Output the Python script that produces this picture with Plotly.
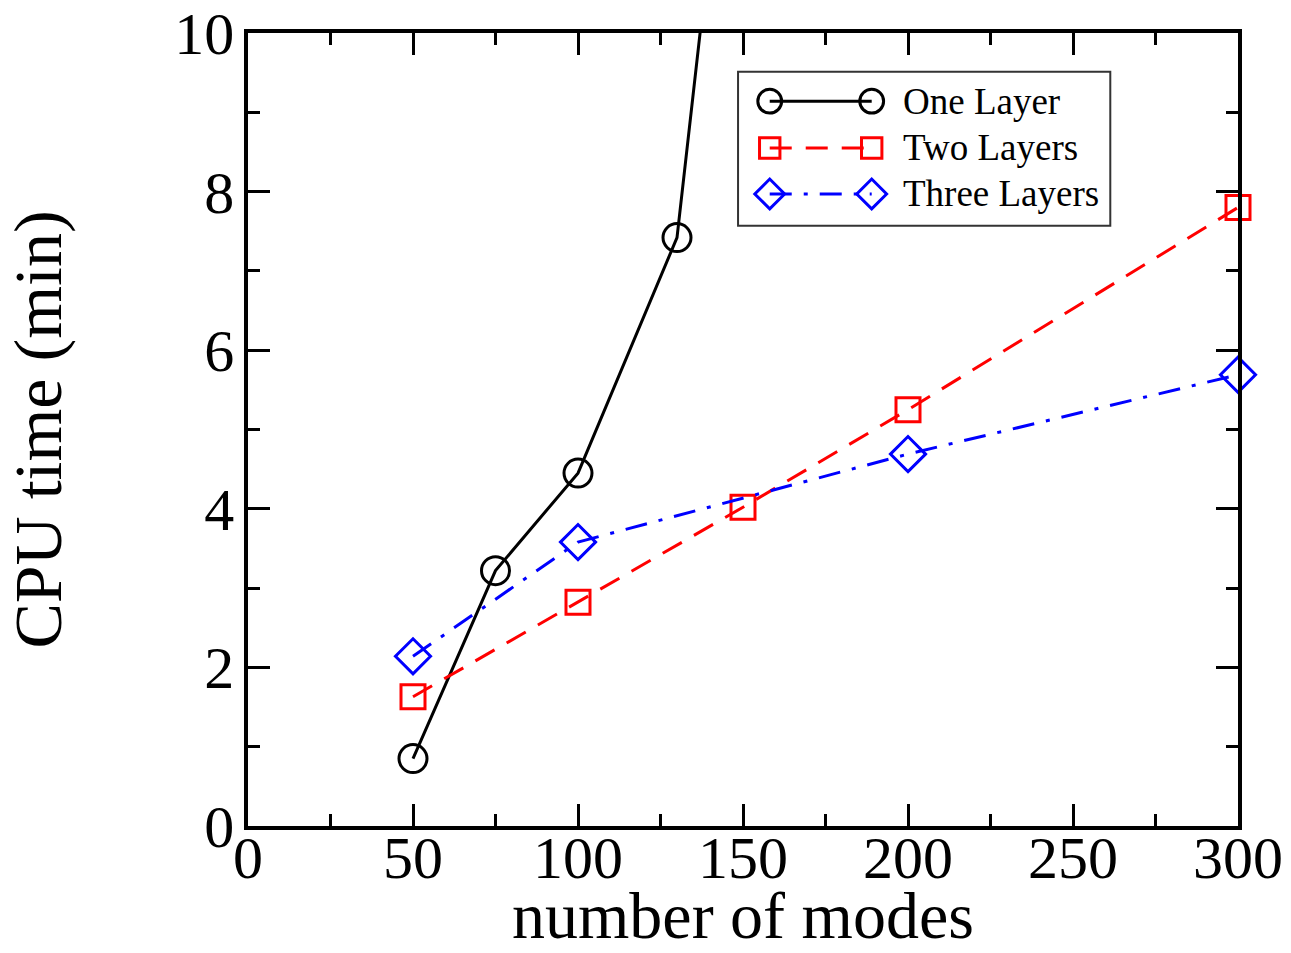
import plotly.graph_objects as go

# Data
one_x = [50, 75, 100, 130, 150]
one_y = [0.85, 3.22, 4.45, 7.42, 14.8]
two_x = [50, 100, 150, 200, 300]
two_y = [1.63, 2.82, 4.02, 5.25, 7.80]
three_x = [50, 100, 200, 300]
three_y = [2.14, 3.58, 4.69, 5.69]

names = ["One Layer", "Two Layers", "Three Layers"]
colors = ["black", "red", "blue"]
dashes = ["solid", "22px,14px", "22px,12px,4px,12px"]
symbols = ["circle-open", "square-open", "diamond-open"]
sizes = [28, 24, 27]

FONT = "Liberation Serif"

fig = go.Figure()
for xs, ys, nm, c, d, s, sz in zip([one_x, two_x, three_x], [one_y, two_y, three_y],
                                   names, colors, dashes, symbols, sizes):
    fig.add_trace(go.Scatter(
        x=xs, y=ys, mode="lines+markers", name=nm,
        line=dict(color=c, width=3, dash=d),
        marker=dict(symbol=s, size=sz, color=c, line=dict(width=3, color=c)),
        cliponaxis=False, showlegend=False))

# Custom legend (paper-like overlay axes)
leg_y = [0.914, 0.855, 0.797]
for nm, c, d, s, sz, ly in zip(names, colors, dashes, symbols, sizes, leg_y):
    fig.add_trace(go.Scatter(
        x=[0.527, 0.630], y=[ly, ly], mode="lines+markers", xaxis="x2", yaxis="y2",
        line=dict(color=c, width=3, dash=d),
        marker=dict(symbol=s, size=sz * 0.85, color=c, line=dict(width=3, color=c)),
        cliponaxis=False, showlegend=False, hoverinfo="skip"))
    fig.add_annotation(x=0.660, y=ly, xref="x2", yref="y2", text=nm, showarrow=False,
                       xanchor="left", yanchor="middle",
                       font=dict(family=FONT, size=37, color="black"))

fig.add_shape(type="rect", xref="x2", yref="y2", x0=0.495, x1=0.871, y0=0.757, y1=0.951,
              line=dict(color="#333", width=2), fillcolor="rgba(0,0,0,0)")

# x-axis title as annotation
fig.add_annotation(x=0.5, y=0, xref="paper", yref="paper", text="number of modes",
                   showarrow=False, xanchor="center", yanchor="top", yshift=-52,
                   borderpad=0, font=dict(family=FONT, size=66, color="black"))

axis_common = dict(showline=True, linewidth=3.5, linecolor="black", mirror="allticks",
                   ticks="inside", ticklen=22, tickwidth=3, tickcolor="black",
                   showgrid=False, zeroline=False, automargin=False,
                   tickfont=dict(family=FONT, size=60, color="black"))

fig.update_layout(
    width=1291, height=953,
    margin=dict(l=248, r=53, t=33, b=127),
    paper_bgcolor="white", plot_bgcolor="white",
    font=dict(family=FONT, color="black"),
    xaxis=dict(range=[0, 300], dtick=50, tick0=0, ticklabelstandoff=-24,
               minor=dict(ticks="inside", ticklen=12, dtick=25, tickwidth=3, tickcolor="black"),
               **axis_common),
    yaxis=dict(range=[0, 10], dtick=2, tick0=0, ticklabelstandoff=-2,
               minor=dict(ticks="inside", ticklen=12, dtick=1, tickwidth=3, tickcolor="black"),
               title=dict(text="CPU time (min)", font=dict(family=FONT, size=68), standoff=95),
               **axis_common),
    xaxis2=dict(overlaying="x", range=[0, 1], visible=False, fixedrange=True),
    yaxis2=dict(overlaying="y", range=[0, 1], visible=False, fixedrange=True),
)

fig.write_html("out.html")
